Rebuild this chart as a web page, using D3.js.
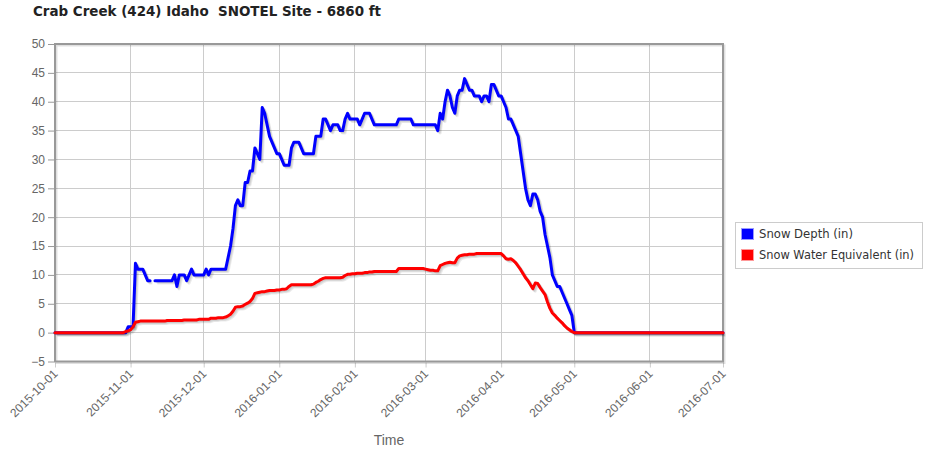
<!DOCTYPE html>
<html><head><meta charset="utf-8">
<script src="https://cdn.jsdelivr.net/npm/d3@7/dist/d3.min.js"></script>
<style>
body{margin:0;background:#fff;}
svg{display:block;}
</style></head>
<body>
<svg id="chart" width="943" height="460"></svg>
<script>
const titleText = "Crab Creek (424) Idaho  SNOTEL Site - 6860 ft";
const xAxisTitle = "Time";
const seriesNames = ["Snow Depth (in)", "Snow Water Equivalent (in)"];
const seriesColors = ["#0000ff", "#ff0000"];
const startDate = "2015-10-01";
const xTickLabels = ["2015-10-01","2015-11-01","2015-12-01","2016-01-01","2016-02-01","2016-03-01","2016-04-01","2016-05-01","2016-06-01","2016-07-01"];
const yTickValues = [-5,0,5,10,15,20,25,30,35,40,45,50];

// daily values, Oct 1 2015 .. Jul 1 2016 (null = missing)
const depthOct = [0,0,0,0,0,0,0,0,0,0,0,0,0,0,0,0,0,0,0,0,0,0,0,0,0,0,0,0,0,0,1];
const depthNov = [1,1,12,11,11,11,10,9,9,null,9,9,9,9,9,9,9,9,10,8,10,10,10,9,10,11,10,10,10,10];
const depthDec = [10,11,10,11,11,11,11,11,11,11,13,15,18,22,23,22,22,26,26,28,28,32,31,30,39,38,36,34,33,32,31];
const depthJan = [31,30,29,29,29,32,33,33,33,32,31,31,31,31,31,34,34,34,37,37,36,35,36,36,36,35,35,37,38,37,37];
const depthFeb = [37,37,36,37,38,38,38,37,36,36,36,36,36,36,36,36,36,36,37,37,37,37,37,37,36,36,36,36,36];
const depthMar = [36,36,36,36,36,35,38,37,40,42,41,39,38,41,42,42,44,43,42,42,41,41,41,40,41,41,40,43,43,42,41];
const depthApr = [41,40,39,37,37,36,35,34,31,28,25,23,22,24,24,23,21,20,17,15,13,10,9,8,8,7,6,5,4,3];
const depthMay = [0,0,0,0,0,0,0,0,0,0,0,0,0,0,0,0,0,0,0,0,0,0,0,0,0,0,0,0,0,0,0];
const depthJun = [0,0,0,0,0,0,0,0,0,0,0,0,0,0,0,0,0,0,0,0,0,0,0,0,0,0,0,0,0,0];
const depthJul = [0];

const sweOct = [0,0,0,0,0,0,0,0,0,0,0,0,0,0,0,0,0,0,0,0,0,0,0,0,0,0,0,0,0,0.2,0.3];
const sweNov = [0.5,1.0,1.8,1.9,2.0,2.0,2.0,2.0,2.0,2.0,2.0,2.0,2.0,2.0,2.0,2.1,2.1,2.1,2.1,2.1,2.1,2.1,2.2,2.2,2.2,2.2,2.2,2.2,2.3,2.3];
const sweDec = [2.3,2.3,2.3,2.5,2.5,2.5,2.6,2.6,2.6,2.7,2.9,3.2,3.7,4.4,4.5,4.5,4.6,4.9,5.1,5.4,5.9,6.8,6.9,7.0,7.1,7.1,7.2,7.3,7.3,7.3,7.4];
const sweJan = [7.4,7.5,7.5,7.6,8.0,8.3,8.3,8.3,8.3,8.3,8.3,8.3,8.3,8.3,8.4,8.7,8.9,9.2,9.4,9.5,9.5,9.5,9.5,9.5,9.5,9.5,9.6,9.9,10.1,10.1,10.2];
const sweFeb = [10.2,10.3,10.3,10.3,10.4,10.4,10.5,10.5,10.6,10.6,10.6,10.6,10.6,10.6,10.6,10.6,10.6,10.6,11.1,11.1,11.1,11.1,11.1,11.1,11.1,11.1,11.1,11.1,11.1];
const sweMar = [11.0,10.9,10.8,10.8,10.7,10.7,11.6,11.8,12.0,12.1,12.2,12.1,12.1,12.9,13.3,13.4,13.5,13.5,13.6,13.6,13.6,13.7,13.7,13.7,13.7,13.7,13.7,13.7,13.7,13.7,13.7];
const sweApr = [13.7,13.3,12.8,12.7,12.8,12.5,12.1,11.5,10.9,10.2,9.5,9.0,8.3,7.6,8.6,8.5,7.8,7.2,6.6,5.3,4.2,3.4,3.0,2.5,2.1,1.7,1.2,0.8,0.5,0.2];
const sweMay = [0,0,0,0,0,0,0,0,0,0,0,0,0,0,0,0,0,0,0,0,0,0,0,0,0,0,0,0,0,0,0];
const sweJun = [0,0,0,0,0,0,0,0,0,0,0,0,0,0,0,0,0,0,0,0,0,0,0,0,0,0,0,0,0,0];
const sweJul = [0];

const depth = [].concat(depthOct,depthNov,depthDec,depthJan,depthFeb,depthMar,depthApr,depthMay,depthJun,depthJul);
const swe = [].concat(sweOct,sweNov,sweDec,sweJan,sweFeb,sweMar,sweApr,sweMay,sweJun,sweJul);

const parse = d3.timeParse("%Y-%m-%d");
const t0 = parse(startDate);
const toPoints = arr => arr.map((v,i) => ({date: d3.timeDay.offset(t0, i), value: v}));
const series = [toPoints(depth), toPoints(swe)];

const svg = d3.select("#chart");
const L = 55, R = 723, T = 44, B = 361.5;
const x = d3.scaleTime().domain([parse(xTickLabels[0]), parse(xTickLabels[xTickLabels.length-1])]).range([L, R]);
const y = d3.scaleLinear().domain([-5, 50]).range([B, T]);

// title
svg.append("text").attr("x", 33).attr("y", 16)
  .attr("font-family", "DejaVu Sans, Verdana, sans-serif").attr("font-weight", "bold")
  .attr("font-size", 14).attr("fill", "#222")
  .style("white-space", "pre").attr("xml:space", "preserve")
  .attr("textLength", 348).attr("lengthAdjust", "spacingAndGlyphs")
  .text(titleText);

// grid
const grid = svg.append("g");
grid.selectAll("line.h").data(yTickValues).join("line")
  .attr("x1", L).attr("x2", R).attr("y1", d => y(d)).attr("y2", d => y(d))
  .attr("stroke", "#cccccc").attr("stroke-width", 1).attr("shape-rendering", "crispEdges");
grid.selectAll("line.v").data(xTickLabels).join("line")
  .attr("x1", d => x(parse(d))).attr("x2", d => x(parse(d))).attr("y1", T).attr("y2", B)
  .attr("stroke", "#cccccc").attr("stroke-width", 1).attr("shape-rendering", "crispEdges");

// y axis
const yAxis = d3.axisLeft(y).tickValues(yTickValues).tickSize(6).tickPadding(3);
const yg = svg.append("g").attr("transform", `translate(${L-1},0)`).call(yAxis);
yg.select(".domain").remove();
yg.selectAll(".tick line").attr("stroke", "#999");
yg.selectAll(".tick text").attr("fill", "#666").attr("font-size", 12)
  .attr("font-family", "Liberation Sans, Arial, sans-serif");

// x axis
const xAxis = d3.axisBottom(x).tickValues(xTickLabels.map(parse)).tickSize(5)
  .tickFormat(d3.timeFormat("%Y-%m-%d"));
const xg = svg.append("g").attr("transform", `translate(0,${B+1})`).call(xAxis);
xg.select(".domain").remove();
xg.selectAll(".tick line").attr("stroke", "#ccc");
xg.selectAll(".tick text").attr("fill", "#666").attr("font-size", 12)
  .attr("font-family", "Liberation Sans, Arial, sans-serif")
  .attr("text-anchor", "end").attr("dy", 0).attr("y", 0)
  .attr("transform", "translate(3,12) rotate(-45)");

svg.append("text").attr("x", 389).attr("y", 445).attr("text-anchor", "middle")
  .attr("fill", "#666").attr("font-size", 14)
  .attr("font-family", "Liberation Sans Narrow, Liberation Sans, Arial, sans-serif")
  .text(xAxisTitle);

// frame with shadow
svg.append("rect").attr("x", L+1.5).attr("y", T+1.5).attr("width", R-L).attr("height", B-T)
  .attr("fill", "none").attr("stroke", "rgba(0,0,0,0.12)").attr("stroke-width", 2);
svg.append("rect").attr("x", L).attr("y", T).attr("width", R-L).attr("height", B-T)
  .attr("fill", "none").attr("stroke", "#999").attr("stroke-width", 2);

// lines
const line = d3.line().defined(d => d.value !== null)
  .x(d => x(d.date)).y(d => y(d.value)).curve(d3.curveLinear);
const plot = svg.append("g");
series.forEach((s, i) => {
  [3, 2, 1].forEach(k => {
    plot.append("path").datum(s).attr("d", line).attr("fill", "none")
      .attr("stroke", "rgba(0,0,0,0.08)").attr("stroke-width", 3)
      .attr("stroke-linejoin", "round")
      .attr("transform", `translate(${0.8*k},${0.8*k})`);
  });
  plot.append("path").datum(s).attr("d", line).attr("fill", "none")
    .attr("stroke", seriesColors[i]).attr("stroke-width", 3)
    .attr("stroke-linejoin", "round").attr("stroke-linecap", "round");
});

// legend
const lg = svg.append("g").attr("transform", "translate(735,222)");
lg.append("rect").attr("x", 0.5).attr("y", 0.5).attr("width", 187).attr("height", 46)
  .attr("fill", "#fff").attr("stroke", "#ccc");
seriesNames.forEach((n, i) => {
  lg.append("rect").attr("x", 6.5).attr("y", 6.5 + i*21).attr("width", 12).attr("height", 11)
    .attr("fill", seriesColors[i]).attr("stroke", i ? "#f99" : "#99f").attr("stroke-width", 1);
  lg.append("text").attr("x", 24).attr("y", 16 + i*21).attr("font-size", 12)
    .attr("font-family", "DejaVu Sans, Verdana, sans-serif").attr("fill", "#333")
    .attr("textLength", i ? 155 : 94).attr("lengthAdjust", "spacingAndGlyphs")
    .text(n);
});
</script>
</body></html>
